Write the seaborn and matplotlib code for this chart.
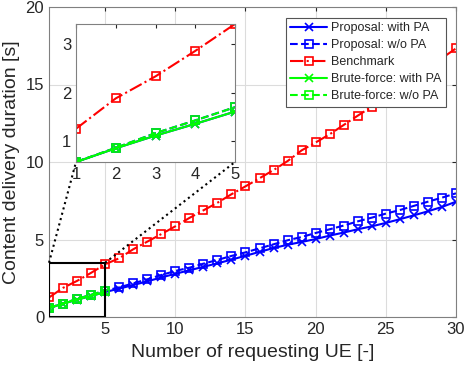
import numpy as np
import pandas as pd
import matplotlib
matplotlib.use("Agg")
import matplotlib.pyplot as plt
from matplotlib.patches import Rectangle
import seaborn as sns

# ---------------- datos ----------------
n_ue = list(range(1, 31))
prop_pa = [0.58, 0.86, 1.12, 1.36, 1.61, 1.83, 2.06, 2.30, 2.55, 2.79,
           3.01, 3.24, 3.46, 3.70, 3.95, 4.20, 4.45, 4.66, 4.84, 5.03,
           5.25, 5.45, 5.66, 5.85, 6.07, 6.31, 6.56, 6.82, 7.10, 7.44]
prop_nopa = [0.58, 0.87, 1.17, 1.43, 1.70, 1.91, 2.17, 2.43, 2.71, 2.97,
             3.18, 3.44, 3.68, 3.94, 4.17, 4.43, 4.69, 4.95, 5.16, 5.42,
             5.66, 5.90, 6.17, 6.41, 6.67, 6.90, 7.17, 7.44, 7.70, 7.98]
benchmark = [1.26, 1.88, 2.33, 2.85, 3.40, 3.79, 4.37, 4.86, 5.35, 5.85,
             6.39, 6.88, 7.37, 7.92, 8.43, 8.95, 9.48, 10.06, 10.75, 11.26,
             11.79, 12.39, 12.99, 13.57, 14.15, 14.80, 15.40, 16.05, 16.70, 17.33]
bf_ue = [1, 2, 3, 4, 5]
bf_pa = [0.58, 0.86, 1.12, 1.36, 1.61]
bf_nopa = [0.58, 0.87, 1.17, 1.43, 1.70]

series = [
    ('Proposal: with PA', n_ue, prop_pa, (0, 0, 1), '-', 'x'),
    ('Proposal: w/o PA', n_ue, prop_nopa, (0, 0, 1), '--', 's'),
    ('Benchmark', n_ue, benchmark, (1, 0, 0), '-.', 's'),
    ('Brute-force: with PA', bf_ue, bf_pa, (0, 1, 0), '-', 'x'),
    ('Brute-force: w/o PA', bf_ue, bf_nopa, (0, 1, 0), '--', 's'),
]

sns.set_style("white")
plt.rcParams['font.family'] = ['Liberation Sans', 'DejaVu Sans']

fig = plt.figure(figsize=(4.65, 3.72), dpi=100)
ax = fig.add_axes([49/465, 1-317/372, (456-49)/465, (317-7)/372])
axin = fig.add_axes([76/465, 1-162/372, (235-76)/465, (162-24)/372])


def dibujar(a, con_label):
    for nombre, xs, ys, col, ls, mk in series:
        df = pd.DataFrame({'x': xs, 'y': ys})
        sns.lineplot(data=df, x='x', y='y', ax=a, color=col, linestyle=ls,
                     marker=mk, markersize=5.5, markerfacecolor='none',
                     markeredgecolor=col, markeredgewidth=1.2, linewidth=1.5,
                     label=nombre if con_label else None, legend=False)


dibujar(ax, True)
ax.set_xlim(1, 30)
ax.set_ylim(0, 20)
ax.set_xticks([5, 10, 15, 20, 25, 30])
ax.set_yticks([0, 5, 10, 15, 20])
ax.grid(True, color='#dcdcdc', linewidth=0.8)
ax.set_xlabel('Number of requesting UE [-]', fontsize=14, labelpad=5)
ax.set_ylabel('Content delivery duration [s]', fontsize=14, labelpad=4)
ax.tick_params(direction='in', top=True, right=True, labelsize=12,
               length=3, colors='#262626')
for s in ax.spines.values():
    s.set_color('#808080')

# recuadro del zoom
ax.add_patch(Rectangle((1, 0), 4, 3.5, fill=False, edgecolor='black',
                       linewidth=1.5, zorder=5))

dibujar(axin, False)
axin.set_xlim(1, 5)
axin.set_ylim(min(bf_pa), max(benchmark[:5]))
axin.set_xticks([1, 2, 3, 4, 5])
axin.set_yticks([1, 2, 3])
axin.set_xlabel('')
axin.set_ylabel('')
axin.tick_params(direction='in', top=True, right=True, labelsize=12,
                 length=3, colors='#262626')
for s in axin.spines.values():
    s.set_color('#808080')

# lineas punteadas entre recuadro e inset
for xd, xf in [(1, 76), (5, 235)]:
    p0 = fig.transFigure.inverted().transform(ax.transData.transform((xd, 3.5)))
    fig.add_artist(plt.Line2D([p0[0], xf/465], [p0[1], 1-162/372],
                              transform=fig.transFigure, color='black',
                              linestyle=':', linewidth=1.5))

h, l = ax.get_legend_handles_labels()
leg = ax.legend(h, l, loc='upper right', bbox_to_anchor=(446/465, 1-18/372),
                bbox_transform=fig.transFigure, fontsize=9, handlelength=3,
                framealpha=1, fancybox=False, edgecolor='#555555',
                borderpad=0.35, labelspacing=0.4, handletextpad=0.3,
                borderaxespad=0)
leg.get_frame().set_linewidth(0.8)

fig.savefig('out.png', dpi=100)
